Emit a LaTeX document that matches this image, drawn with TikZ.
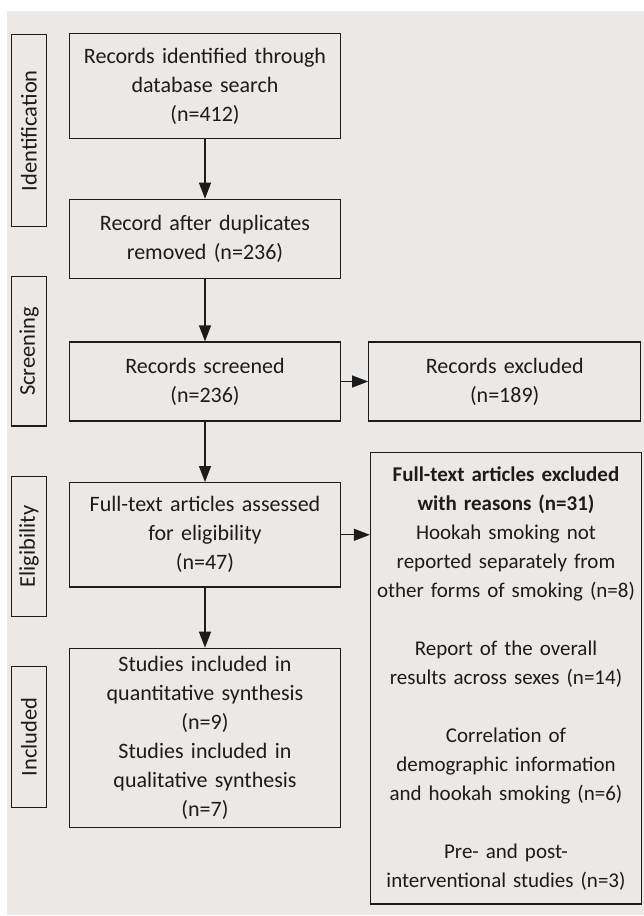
\documentclass[tikz,border=0pt]{standalone}
\usepackage{fontspec}
\setmainfont{Carlito}
\usetikzlibrary{arrows.meta}
\definecolor{bgcol}{RGB}{235,232,229}
\definecolor{inkcol}{RGB}{28,28,28}
\begin{document}
\begin{tikzpicture}[x=1pt,y=-1pt,
  box/.style={draw=inkcol,line width=1.2pt,fill=bgcol,text=inkcol,inner sep=0pt,
    align=center,font=\fontsize{22}{29}\selectfont},
  sidebox/.style={draw=inkcol,line width=1.2pt,fill=bgcol,text=inkcol,inner sep=0pt,
    rotate=90,minimum height=35pt,font=\fontsize{22.5}{26}\selectfont},
  arr/.style={draw=inkcol,line width=1.2pt,-{Triangle[length=16pt,width=12pt]}}]
\useasboundingbox (0,0) rectangle (644,916);
\fill[bgcol] (7,11) rectangle (644,915);
% side labels
\node[sidebox,minimum width=192pt] (sid) at (29,130.7) {Identification};
\node[sidebox,minimum width=149.3pt] (ssc) at (29,351.3) {Screening};
\node[sidebox,minimum width=140pt] (sel) at (29,546.7) {Eligibility};
\node[sidebox,minimum width=140.6pt] (sin) at (29,737) {Included};
% main boxes
\node[box,minimum width=271.4pt,minimum height=105pt,text width=267pt] (b1) at (205,86.2)
  {Records identified through\\database search\\(n=412)};
\node[box,minimum width=271.4pt,minimum height=79pt,text width=267pt] (b2) at (205,238.8)
  {Record after duplicates\\removed (n=236)};
\node[box,minimum width=271.4pt,minimum height=79pt,text width=267pt] (b3) at (205,381.5)
  {Records screened\\(n=236)};
\node[box,minimum width=272pt,minimum height=79pt,text width=267pt] (b4) at (504.7,381.5)
  {Records excluded\\(n=189)};
\node[box,minimum width=271.4pt,minimum height=104.3pt,text width=267pt] (b5) at (205,534.8)
  {Full-text articles assessed\\for eligibility\\(n=47)};
\node[box,minimum width=271pt,minimum height=451.3pt,text width=269pt,
  font=\fontsize{21}{29}\selectfont] (b6) at (506,678.3)
  {\textbf{Full-text articles excluded}\\\textbf{with reasons (n=31)}\\Hookah smoking not\\reported separately from\\other forms of smoking (n=8)\\[29pt]
   Report of the overall\\results across sexes (n=14)\\[29pt]
   Correlation of\\demographic information\\and hookah smoking (n=6)\\[29pt]
   Pre- and post-\\interventional studies (n=3)};
\node[box,minimum width=271.4pt,minimum height=179.4pt,text width=267pt] (b7) at (205,738)
  {Studies included in\\quantitative synthesis\\(n=9)\\Studies included in\\qualitative synthesis\\(n=7)};
% connectors
\draw[arr] (b1.south) -- (b2.north);
\draw[arr] (b2.south) -- (b3.north);
\draw[arr] (b3.south) -- (b5.north);
\draw[arr] (b5.south) -- (b7.north);
\draw[arr] (b3.east) -- (b4.west);
\draw[arr] (b5.east) -- (b5.east -| b6.west);
\end{tikzpicture}
\end{document}
